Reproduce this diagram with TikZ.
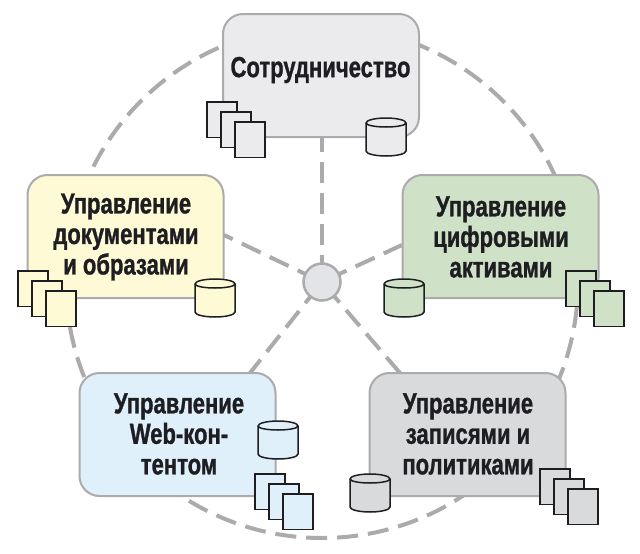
\documentclass[tikz,border=0pt]{standalone}
\usepackage{fontspec}
\newfontfamily\areafont[UprightFont={* Bold},FakeStretch=0.76,FakeBold=1]{Liberation Sans}
\newcommand{\labelfont}{\areafont\fontsize{29}{30.5}\selectfont}
\definecolor{ringgray}{HTML}{ABABAB}
\definecolor{inkdark}{HTML}{1E1E22}
\definecolor{topfill}{HTML}{EBEBED}
\definecolor{leftfill}{HTML}{FFFAD6}
\definecolor{rightfill}{HTML}{CFE2C8}
\definecolor{blfill}{HTML}{DFF0FB}
\definecolor{brfill}{HTML}{D9DADB}
\definecolor{hubfill}{HTML}{E3E4E8}
\tikzset{
  x=1pt,y=-1pt,
  dashline/.style={draw=ringgray,line width=4pt,dash pattern=on 21pt off 10pt},
  area/.style={draw=ringgray,line width=2pt,rounded corners=20pt,minimum width=196pt,minimum height=123pt,inner sep=0pt},
  arealabel/.style={font=\labelfont,align=center,text=inkdark,inner sep=0pt},
  sheet/.style={draw=inkdark,line width=1.5pt,minimum width=30pt,minimum height=35.5pt,inner sep=0pt},
  hubnode/.style={circle,draw=ringgray,line width=2.5pt,fill=hubfill,minimum size=37pt,inner sep=0pt},
  drum/.style={draw=inkdark,line width=1.5pt}
}
% #1 name, #2 left x, #3 top y, #4 fill
\newcommand{\sheetstack}[4]{%
  \node[sheet,fill=#4,anchor=north west] (#1a) at (#2,#3) {};
  \node[sheet,fill=#4,anchor=north west] (#1b) at (#2+14,#3+10) {};
  \node[sheet,fill=#4,anchor=north west] (#1c) at (#2+28,#3+20) {};
}
% #1 left x, #2 top y, #3 fill : 40 wide, 38 high
\newcommand{\drumicon}[3]{%
  \path[drum,fill=#3] (#1,#2+5) -- (#1,#2+33) arc[start angle=180,end angle=360,x radius=20,y radius=-5] -- (#1+40,#2+5) arc[start angle=0,end angle=180,x radius=20,y radius=-5] -- cycle;
  \path[drum] (#1,#2+5) arc[start angle=180,end angle=360,x radius=20,y radius=-4];
}
\begin{document}
\begin{tikzpicture}
\useasboundingbox (0,0) rectangle (640,554);
\fill[white] (0,0) rectangle (640,554);
% ring
\draw[dashline,dash phase=6pt] (322,282) circle[radius=256];
% named ends
\coordinate (endT) at (322,137);
\coordinate (endL) at (224,235);
\coordinate (endR) at (402,245);
\coordinate (endBL) at (250,373);
\coordinate (endBR) at (400,373);
\coordinate (hubc) at (322,282);
\foreach \e in {endT,endL,endR,endBL,endBR}
  \draw[dashline,dash phase=25pt] (hubc) -- (\e);
% boxes
\node[area,fill=topfill]   (top)   at (321,75.5)  {};
\node[area,fill=leftfill]  (left)  at (125.5,236.5) {};
\node[area,fill=rightfill] (right) at (500.5,236.5) {};
\node[area,fill=blfill]    (bl)    at (177.5,434.5) {};
\node[area,fill=brfill]    (br)    at (467.5,434.5) {};
% hub
\node[hubnode] (hub) at (322,282) {};
% labels
\node[arealabel] (ltop)   at (320.5,70)  {Сотрудничество};
\node[arealabel] (lleft)  at (126,237)   {Управление\\документами\\и образами};
\node[arealabel] (lright) at (501,237)   {Управление\\цифровыми\\активами};
\node[arealabel] (lbl)    at (179,434)   {Управление\\Web-кон-\\тентом};
\node[arealabel] (lbr)    at (468,434)   {Управление\\записями и\\политиками};
% icons
\sheetstack{st}{206}{101}{topfill}
\drumicon{366}{118}{topfill}
\sheetstack{sl}{17}{270}{leftfill}
\drumicon{195}{279}{leftfill}
\sheetstack{sr}{565}{270}{rightfill}
\drumicon{384}{279}{rightfill}
\sheetstack{sb}{254}{473}{blfill}
\drumicon{258}{421}{blfill}
\sheetstack{sc}{539}{468}{brfill}
\drumicon{350}{474}{brfill}
\end{tikzpicture}
\end{document}
